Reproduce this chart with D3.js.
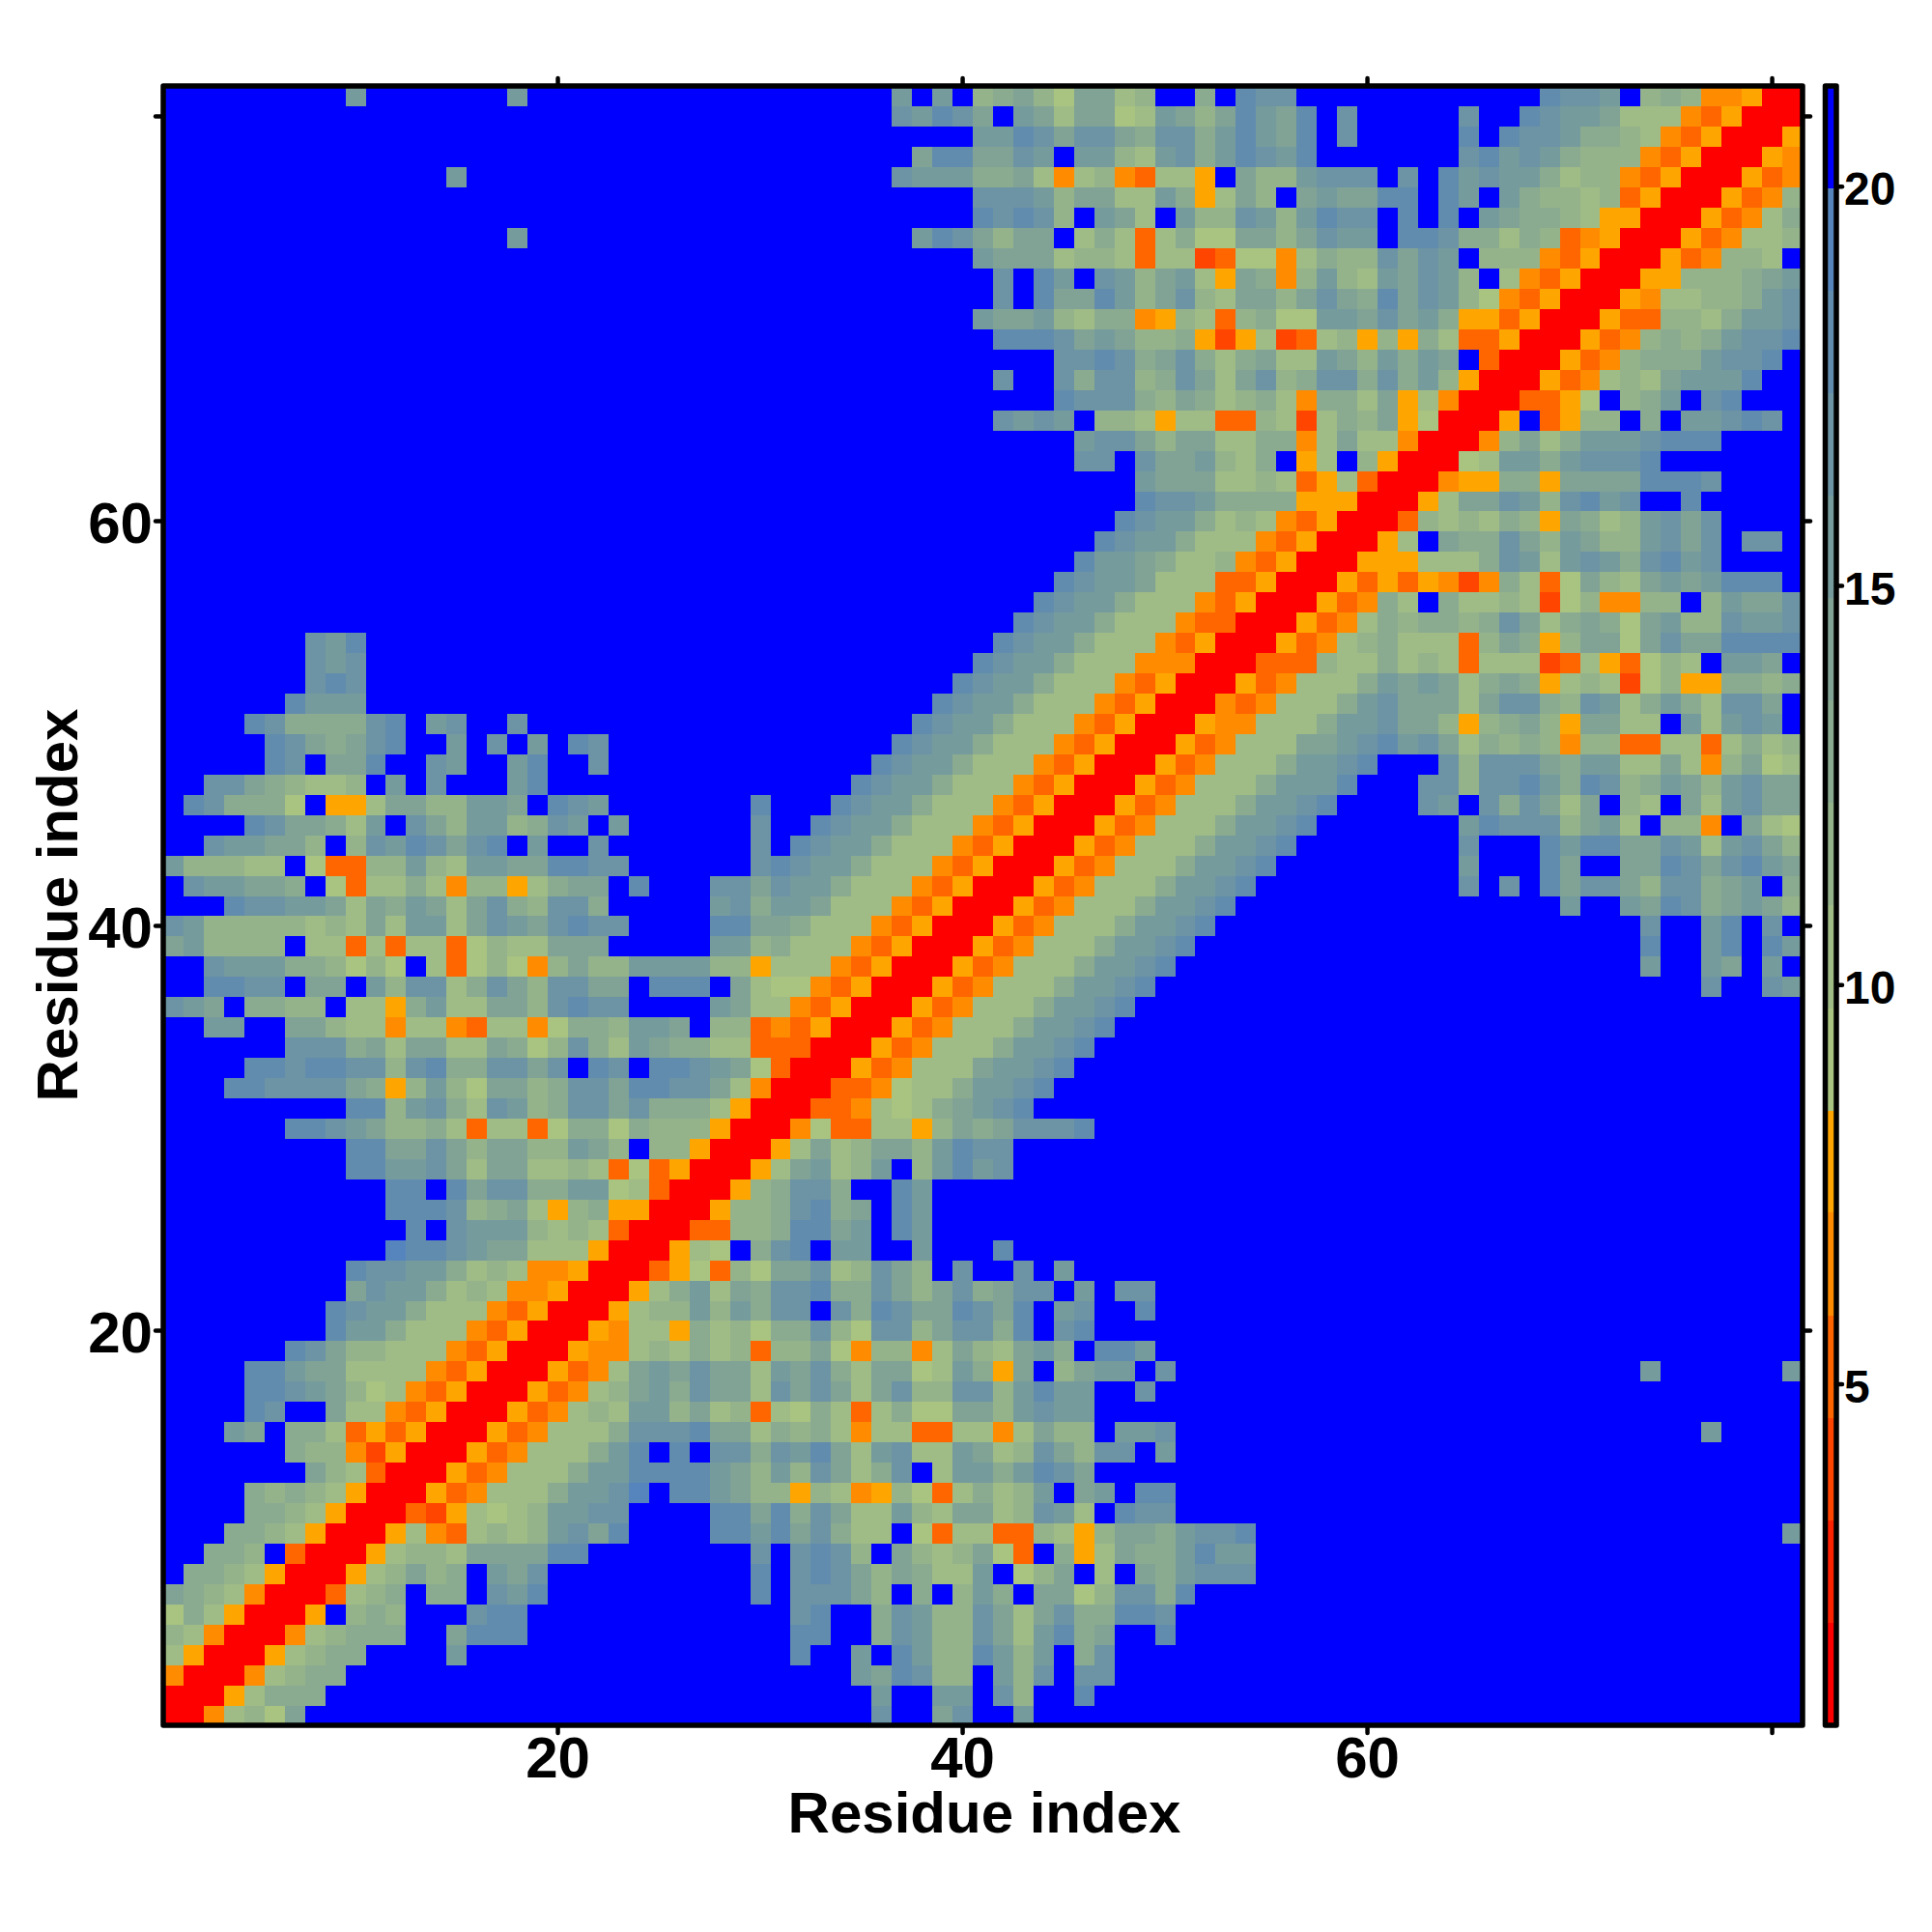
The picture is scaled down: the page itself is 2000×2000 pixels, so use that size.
<!DOCTYPE html>
<html><head><meta charset="utf-8">
<script src="https://cdnjs.cloudflare.com/ajax/libs/d3/7.8.5/d3.min.js"></script>
<style>html,body{margin:0;padding:0;background:#fff}svg{display:block}text{font-family:"Liberation Sans",Arial,sans-serif;font-weight:700;fill:#000}</style>
</head><body><svg id="c" width="2000" height="2000"></svg>
<script>
const residues = Array.from({length:81},(_,i)=>i+1);
const axisTicks = [20,40,60,80];
const axisLabels = ["20","40","60",""];
const barTicks = [5,10,15,20];
const axisTitle = "Residue index";
const distanceBreaks = [0.73,2.01,3.30,4.58,5.86,7.15,8.43,9.71,11.00,12.28,13.56,14.85,16.13,17.41,18.70,19.98,21.26];
const levelCodes = "R1DOMYabcdefghi.";
const levelColors = ["#ff0000","#ff2200","#ff4500","#ff6600","#ff8c00","#ffa500","#a9c381","#9fbb86","#95b38b","#8aab90","#80a396","#769b9d","#6c94a5","#628cae","#5685bd","#0000ff"];
// Upper-left triangle of the symmetric map, first string is residue y=81, last y=1.
// Each string ends on the diagonal (x=y); anything to its left is blue.
const contactRows = [
"f.......f..................f.f.cdecaeebc..d.hgg............hggf.cdcMMYRR",
"gfhge.febeeabfecehfeh.g.....g..hgffebbbMOYRR",
"ffhgeggedggdfhfeh.g.....h.hggfddcbMOYRR",
"ehheegf.ffcbfgdfhgfh.......ghfgfdcccMOYRR",
"f.....................gfffddebMbcMObbY.eccfggg.g.hfgffdbccMOYRR",
"gggfceebbfdYbec.efeehh.hf.fdccbcOYRR",
"hghgc.feb.fccgfcfhgg.h.h.feddcbYYRR",
"f...................fhgecee.bdbObdaaeecegff.hhgddbdcOMYRR",
"feeebccbObbDOaaMbdccgegf.cccMOYRR",
"g.hf.gfcefbYedMcfcbfegfc.bMOYRR",
"g.heehfcegcbeecegedhegfcaMOYRR",
"feefcbddMYcbOcdaaffegefdYYOYRR",
"hhhgefeccdYDYbDObcYcYdbOOYRR",
"gghgdegdbdebbfecfdfe.ORR",
"g..gdggcdgebegcdggdgdfcYRR",
"hgggdcedbcdbMddbeYbMRR",
"gfgf.ccbYbbOOcbDbdceYaRR",
"fggeceebbddMbebbMRR",
"gg.geefcbd.Yb.cYRR",
"feeebbcbOYbORR",
"hggfddddYYYRR",
"hgffdbcbMOYRR",
"hgffdbbbMOYRR",
"hffedbbcMOYRR",
"hgffebbbOOYRR",
"hgffdbbbMOYRR",
"hgffdbbbMOORR",
"gfh...............................hgffdbbbMOYRR",
"gfg..............................hgffdbbbMMMRR",
"ghg.............................hgffdbbbMOYRR",
"hfff............................hgffdbbbMOYRR",
"hgddddgh.fg..g...................hgffdbbbMOYRR",
"hgedegh..f.g.f.hg..............hgffdbbbMOYRR",
"hg.eeh..gf..fh..g.............hgffdbbbMOYRR",
"ggedcbbc.f.g...fh...............hgffdbbbMOYRR",
"hgddda.YYbeeccffe.hgf.......h...hgffdbbbMOYRR",
"hgeedbf.gecffcdgf.f......g..hgffdbbbMOYRR",
"gffeec.cgfhgegh.f..g.......g.hgffdbbbMOYRR",
"fcccbb.aOOccfcbffeehhgg......ghgffdbbbMOYRR",
"gffeed.aObbdbMccYbdee.h...ggegffdbbbMOYRR",
"hggffebedfebegdcggd.....fgdffebbbMOYRR",
"gfcccccbcbebffbegfeghgg....hheedbbbMOYRR",
"efcccc.bbObObbOacbbeee.....ffcdbbbMOYRR",
"gfffddcaca.bOacaMceccffffccYbbbMOYRR",
"hhgg.ee.fcggbdgecggee.hhh.ebaaMOYRR",
"gfe.ddcc.bbYdfbbeecghgg....febbMOYRR",
"ff..eecbbMbbMObbMaddcffe.ccOMOYRR",
"gggdebeebbedacgdbfeddbbOOORR",
"hhghhggcghddggeg.hg.hhgfeaORR",
"hhggggedYcfcaeecdggehhggebMRR",
"hhcfgdbgfcdggegdddbYRR",
"hhgfeccdbObbOaddadcccYRR",
"hheegeceeccfec.ccYRR",
"hhffgebeebbcbOaOYRR",
"hh.heggddffabORR",
"hhhgcdebYcdYYRR",
"h.gfffcbcbORR",
"ihhgfeebbbYRR",
"hggffdbcbMMYRR",
"egffdbcbMMYRR",
"hgffdbbbMOYRR",
"hffdbbbMOYRR",
"hgeccbbbMOYRR",
"hhfeebbbbMOYRR",
"hhgfecabMOYRR",
"hg..ebbMOYRR",
"fe.ddbOYOYRR",
"dccMDYRR",
"ecbORR",
"dcdcbYRR",
"ddcbYRR",
"ddcbYRR",
"ddc.ORR",
"ddcbYRR",
"edcbMRR",
"adbYRR",
"cbMRR",
"bYRR",
"MRR",
"RR",
"R"
];

const lookup = new Map();
contactRows.forEach((s,i)=>{
  const y = 81-i;
  [...s].forEach((ch,k)=>{
    const x = y - s.length + 1 + k;
    lookup.set(x+"_"+y, ch);
    lookup.set(y+"_"+x, ch);
  });
});
const cells = [];
residues.forEach(y=>residues.forEach(x=>cells.push({x,y,code:lookup.get(x+"_"+y)||"."})));

const L=169,R=1866,T=89,B=1786;
const svg=d3.select("#c");
const x=d3.scaleBand().domain(residues).range([L,R]);
const y=d3.scaleBand().domain(residues).range([B,T]);
const color=d3.scaleOrdinal().domain([...levelCodes]).range(levelColors);

svg.append("g").attr("shape-rendering","crispEdges").selectAll("rect").data(cells).join("rect")
  .attr("x",d=>x(d.x)).attr("y",d=>y(d.y))
  .attr("width",x.bandwidth()+0.5).attr("height",y.bandwidth()+0.5)
  .attr("fill",d=>color(d.code));

const fmt=d=>axisLabels[axisTicks.indexOf(d)];
function style(g,size,dy){
  g.select(".domain").remove();
  g.selectAll(".tick line").attr("stroke","#000").attr("stroke-width",4.5).attr("stroke-linecap","round");
  g.selectAll("text").attr("font-size",size);
  if(dy) g.selectAll("text").attr("dy",dy);
}
svg.append("g").attr("transform",`translate(0,${B})`)
  .call(d3.axisBottom(x).tickValues(axisTicks).tickFormat(fmt).tickSize(8).tickPadding(3).offset(0))
  .call(g=>style(g,60));
svg.append("g").attr("transform",`translate(0,${T})`)
  .call(d3.axisTop(x).tickValues(axisTicks).tickFormat("").tickSize(8).offset(0)).call(g=>style(g,60));
svg.append("g").attr("transform",`translate(${L},0)`)
  .call(d3.axisLeft(y).tickValues(axisTicks).tickFormat(fmt).tickSize(8).tickPadding(3).offset(0)).call(g=>style(g,60,"0.37em"));
svg.append("g").attr("transform",`translate(${R},0)`)
  .call(d3.axisRight(y).tickValues(axisTicks).tickFormat("").tickSize(8).offset(0)).call(g=>style(g,60));

svg.append("rect").attr("x",L).attr("y",T).attr("width",R-L).attr("height",B-T)
  .attr("fill","none").attr("stroke","#000").attr("stroke-width",5.5).attr("stroke-linejoin","round");

svg.append("text").attr("x",1019).attr("y",1897).attr("text-anchor","middle").attr("font-size",60).text(axisTitle);
svg.append("text").attr("transform","translate(80,937) rotate(-90)").attr("text-anchor","middle").attr("font-size",60).text(axisTitle);

// colour bar
const barX=1889.5, barW=11.5;
const barY=d3.scaleLinear().domain([distanceBreaks[0],distanceBreaks[16]]).range([B,T]);
svg.append("g").attr("shape-rendering","crispEdges").selectAll("rect").data(levelColors).join("rect")
  .attr("x",barX).attr("width",barW)
  .attr("y",(c,i)=>barY(distanceBreaks[i+1]))
  .attr("height",(c,i)=>barY(distanceBreaks[i])-barY(distanceBreaks[i+1]))
  .attr("fill",c=>c);
svg.append("rect").attr("x",barX).attr("y",T).attr("width",barW).attr("height",B-T)
  .attr("fill","none").attr("stroke","#000").attr("stroke-width",5.5).attr("stroke-linejoin","round");
svg.append("g").attr("transform",`translate(${barX+barW},0)`)
  .call(d3.axisRight(barY).tickValues(barTicks).tickFormat(d3.format("d")).tickSize(6).tickPadding(2).offset(0))
  .call(g=>style(g,48,"0.4em"));
</script></body></html>
